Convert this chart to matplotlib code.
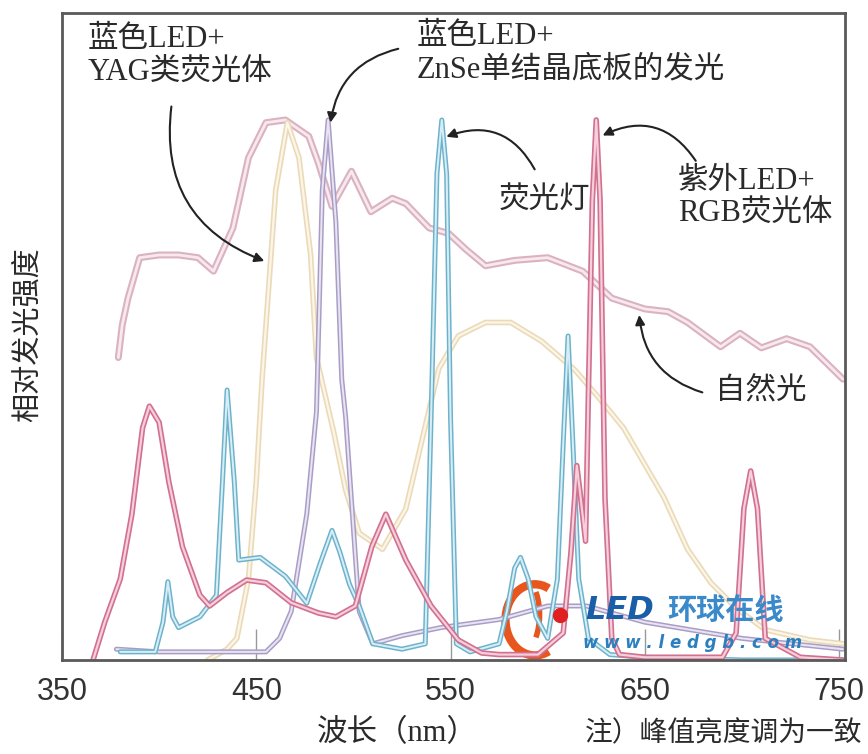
import matplotlib.pyplot as plt
from matplotlib.patches import Arc

plt.rcParams['font.family'] = ['Liberation Serif', 'Noto Sans CJK SC']

# 自然光
nat_nm = [379, 381, 384, 390, 400, 410, 420, 428, 438, 446, 455, 465, 477, 482, 489, 499, 509,
          520, 527, 539, 549, 558, 568, 583, 600, 618, 633, 650, 662, 672, 689, 699, 710, 723, 735, 752]
nat_y = [0.56, 0.62, 0.67, 0.745, 0.75, 0.75, 0.745, 0.72, 0.80, 0.93, 0.995, 1.0, 0.97, 0.92, 0.84, 0.905, 0.83,
         0.855, 0.845, 0.80, 0.79, 0.76, 0.73, 0.74, 0.745, 0.72, 0.67, 0.65, 0.645, 0.625, 0.58, 0.605, 0.578, 0.595, 0.58, 0.52]

# 蓝色LED + YAG类荧光体
yag_nm = [425, 435, 440, 446, 450, 453, 460, 466, 472, 478, 481, 490, 496, 503, 515, 527, 544, 554, 568,
          581, 597, 614, 626, 639, 660, 672, 684, 698, 712, 735, 752]
yag_y = [0.0, 0.02, 0.04, 0.15, 0.33, 0.52, 0.87, 0.995, 0.93, 0.75, 0.56, 0.42, 0.315, 0.235, 0.205, 0.28, 0.54, 0.60, 0.625,
         0.625, 0.59, 0.537, 0.487, 0.43, 0.30, 0.205, 0.143, 0.093, 0.056, 0.037, 0.03]

# 蓝色LED + ZnSe单结晶底板
znse_nm = [378, 400, 420, 440, 455, 462, 468, 476, 481, 484, 487, 491, 494, 496, 503, 510, 525, 545, 575,
           600, 620, 650, 700, 752]
znse_y = [0.02, 0.015, 0.015, 0.015, 0.015, 0.04, 0.09, 0.27, 0.46, 0.87, 1.0, 0.81, 0.52, 0.45, 0.09, 0.03, 0.045, 0.06, 0.075,
          0.1, 0.1, 0.07, 0.04, 0.02]

# 荧光灯
fl_nm = [380, 398, 402, 404.5, 407, 410, 421, 429.5, 432.6, 435, 438.7, 441, 452, 465, 476, 483, 489, 493, 498, 503, 510,
         525, 537, 540, 543, 545.5, 548, 550, 553, 560, 575, 579, 583, 586, 590, 594, 600, 605, 608, 610.5, 613, 616, 621,
         632, 650, 700, 752]
fl_y = [0.015, 0.015, 0.07, 0.145, 0.08, 0.06, 0.08, 0.12, 0.33, 0.5, 0.33, 0.185, 0.19, 0.155, 0.105, 0.18, 0.24, 0.2, 0.14, 0.1, 0.03,
        0.02, 0.03, 0.45, 0.9, 1.0, 0.9, 0.45, 0.03, 0.015, 0.03, 0.09, 0.17, 0.19, 0.15, 0.08, 0.04, 0.15, 0.4, 0.6, 0.4, 0.15, 0.04,
        0.01, 0.005, 0.0, 0.0]

# 紫外LED + RGB荧光体
uv_nm = [366, 372, 380, 386, 391.5, 395, 400, 405, 412, 421, 426, 435, 445, 455, 468, 482, 491, 501, 509.5, 516.7,
         527, 540, 554, 566, 575, 595, 608, 612, 615, 617, 619.5, 621, 623, 625, 627, 629.5, 633, 637, 650, 690, 697,
         701, 704.5, 708, 712, 730, 752]
uv_y = [0.0, 0.07, 0.15, 0.27, 0.43, 0.47, 0.44, 0.33, 0.21, 0.12, 0.1, 0.125, 0.148, 0.143, 0.106, 0.087, 0.08, 0.1, 0.21, 0.27,
        0.185, 0.1, 0.037, 0.013, 0.01, 0.01, 0.05, 0.2, 0.36, 0.3, 0.22, 0.5, 0.85, 1.0, 0.85, 0.3, 0.04, 0.01, 0.005, 0.005, 0.05,
        0.28, 0.35, 0.28, 0.04, 0.005, 0.0]

xticks = [350, 450, 550, 650, 750]

fig = plt.figure(figsize=(8.68, 7.54), dpi=100)
ax = fig.add_axes([0.0714, 0.1247, 0.902, 0.858])


def tube(x, y, edge, inner, lw):
    # 双线效果：深色外轮廓 + 浅色内芯
    ax.plot(x, y, color=edge, lw=lw, solid_joinstyle='round', solid_capstyle='round')
    ax.plot(x, y, color=inner, lw=lw * 0.4, solid_joinstyle='round', solid_capstyle='round')


tube(nat_nm, nat_y, '#dbb2c2', '#f7e9ee', 5.0)
tube(yag_nm, yag_y, '#eadab8', '#fcf6e8', 4.0)
tube(znse_nm, znse_y, '#a99dc6', '#e9e4f2', 3.6)
tube(fl_nm, fl_y, '#6db2cb', '#d8eef6', 3.6)
tube(uv_nm, uv_y, '#d2708f', '#f5cfdc', 4.0)

ax.set_xlim(350, 753)
ax.set_ylim(0, 1.198)
ax.set_xticks(xticks)
ax.set_xticklabels([str(t) for t in xticks], family='Liberation Sans', fontsize=22, color='#333333')
ax.set_yticks([])
ax.tick_params(axis='x', direction='in', length=22, width=1, color='#999999', pad=12)
for s in ax.spines.values():
    s.set_color('#5a5a5a')
    s.set_linewidth(2)

fig.text(0.032, 0.556, '相对发光强度', family='Noto Sans CJK SC', fontsize=21, color='#2a2a2a',
         rotation=90, ha='center', va='center')
fig.text(0.458, 0.027, '波长（nm）', fontsize=22, color='#2a2a2a', ha='center', va='center')
fig.text(0.994, 0.027, '注）峰值亮度调为一致', fontsize=20, color='#2a2a2a', ha='right', va='center')

# 标注文字和箭头
txt = dict(fontsize=22, color='#2a2a2a', ha='left', va='center', linespacing=1.2)
ax.text(363.3, 1.119, '蓝色LED+\nYAG类荧光体', **txt)
ax.text(532.6, 1.124, '蓝色LED+\nZnSe单结晶底板的发光', **txt)
ax.text(574.6, 0.852, '荧光灯', **txt)
ax.text(666.9, 0.856, '紫外LED+\nRGB荧光体', **txt)
ax.text(685.9, 0.496, '自然光', **txt)

arr = dict(arrowstyle='-|>', color='#222222', lw=1.5, mutation_scale=14)
ax.annotate('', xy=(455.5, 0.737), xytext=(406.5, 1.03),
            arrowprops=dict(connectionstyle='arc3,rad=0.4', **arr))
ax.annotate('', xy=(488, 0.99), xytext=(524.5, 1.133),
            arrowprops=dict(connectionstyle='arc3,rad=0.35', **arr))
ax.annotate('', xy=(546.5, 0.967), xytext=(594, 0.904),
            arrowprops=dict(connectionstyle='arc3,rad=0.45', **arr))
ax.annotate('', xy=(627, 0.969), xytext=(677, 0.92),
            arrowprops=dict(connectionstyle='arc3,rad=0.45', **arr))
ax.annotate('', xy=(647, 0.644), xytext=(681, 0.494),
            arrowprops=dict(connectionstyle='arc3,rad=-0.35', **arr))

# 水印 (LED环球在线)
ax.add_patch(Arc((0.604, 0.062), 0.075, 0.11, theta1=70, theta2=290, transform=ax.transAxes,
                 color='#e8561e', lw=6))
ax.add_patch(Arc((0.585, 0.07), 0.05, 0.12, theta1=-60, theta2=60, transform=ax.transAxes,
                 color='#e8561e', lw=4))
ax.plot([0.636], [0.069], 'o', color='#e02020', ms=10, transform=ax.transAxes)
ax.text(0.668, 0.077, 'LED', family='DejaVu Sans', fontsize=23, fontweight='bold', style='italic',
        color='#1a5ea8', ha='left', va='center', transform=ax.transAxes)
ax.text(0.773, 0.077, '环球在线', family='Noto Sans CJK SC', fontsize=21, fontweight='bold',
        color='#3a8acb', ha='left', va='center', transform=ax.transAxes)
ax.text(0.665, 0.026, 'w w w . l e d g b . c o m', family='DejaVu Sans', fontsize=12, fontweight='bold',
        style='italic', color='#2c7fbf', ha='left', va='center', transform=ax.transAxes)

fig.savefig('out.png', dpi=100)
